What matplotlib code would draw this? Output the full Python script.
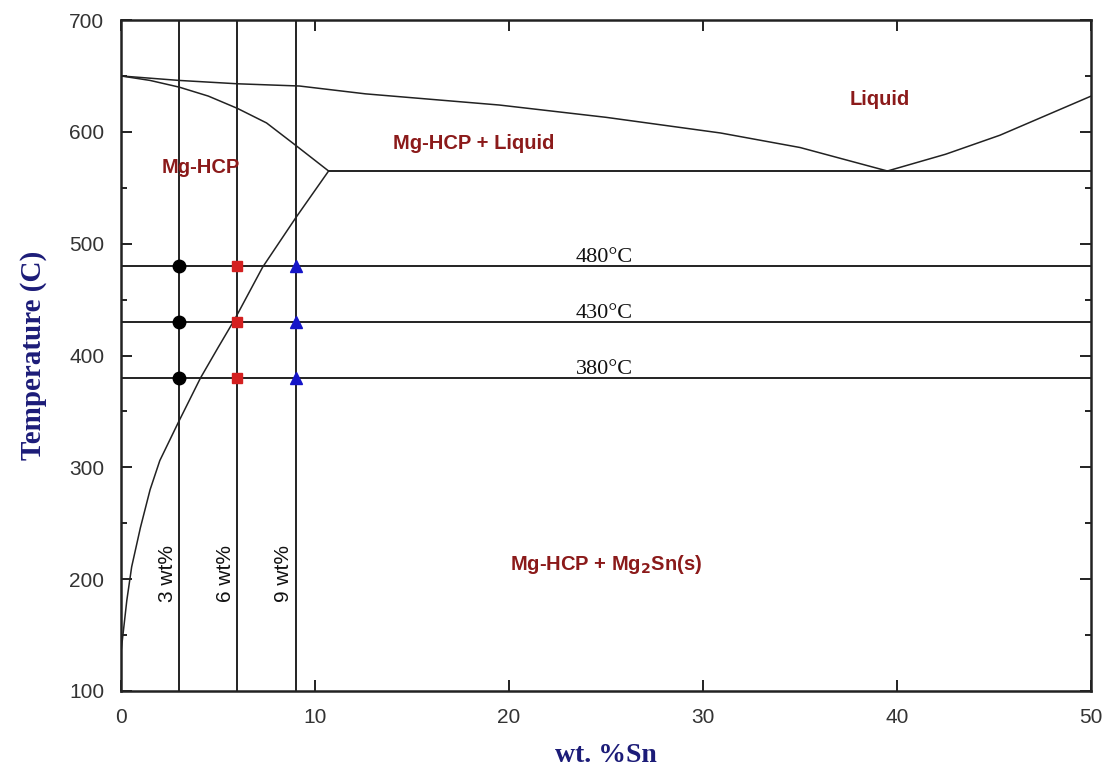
import matplotlib
matplotlib.use("Agg")
import matplotlib.pyplot as plt
from matplotlib.ticker import MultipleLocator

liq_x = [0, 3, 6, 9.2, 12.6, 19.5, 25, 30.9, 35, 39.5]
liq_t = [650, 646, 643, 641, 634, 624, 613, 599, 586, 565]
liq2_x = [39.5, 42.5, 45.3, 50]
liq2_t = [565, 580, 597, 632]
sol_x = [0, 1.5, 3, 4.5, 6, 7.5, 9, 10.7]
sol_t = [650, 646, 640, 632, 621, 608, 588, 565]
solv_x = [0, 0, 0.1, 0.3, 0.55, 1.0, 1.5, 2.0, 2.95, 4.1, 5.0, 5.85, 7.3, 9.0, 10.7]
solv_t = [100, 135, 150, 181, 211, 246, 280, 306, 340, 380, 407, 432, 479, 523, 565]
eut_x = [10.7, 50]
eut_t = 565

composiciones = [3, 6, 9]
temperaturas = [480, 430, 380]
comp_labels = ["3 wt%", "6 wt%", "9 wt%"]
temp_labels = ["480°C", "430°C", "380°C"]
marcadores = [("o", "black", 9), ("s", "#d42020", 7.5), ("^", "#1515c8", 9)]

rojo = "#8b1a1a"
azul = "#1c1c78"

fig = plt.figure(figsize=(11.1, 7.71), dpi=100)
ax = fig.add_axes([0.109, 0.1038, 0.874, 0.8702])

lw = 1.1
ax.plot(liq_x, liq_t, color="#222222", lw=lw)
ax.plot(liq2_x, liq2_t, color="#222222", lw=lw)
ax.plot(sol_x, sol_t, color="#222222", lw=lw)
ax.plot(solv_x, solv_t, color="#222222", lw=lw)
ax.plot(eut_x, [eut_t, eut_t], color="#222222", lw=1.4)

for t in temperaturas:
    ax.axhline(t, color="#222222", lw=1.4)
for c in composiciones:
    ax.axvline(c, color="#222222", lw=1.4)

for c, (m, col, ms) in zip(composiciones, marcadores):
    ax.plot([c] * len(temperaturas), temperaturas, ls="none", marker=m,
            color=col, markersize=ms, zorder=5)

for t, lab in zip(temperaturas, temp_labels):
    ax.text(24.9, t - 1, lab, ha="center", va="bottom", fontsize=16,
            family="Liberation Serif", color="#111111")

for c, lab in zip(composiciones, comp_labels):
    ax.text(c - 0.12, 205, lab, rotation=90, ha="right", va="center",
            fontsize=15, family="Liberation Sans", color="#111111")

kw = dict(ha="center", va="center", fontsize=14.5, fontweight="bold",
          family="Liberation Sans", color=rojo)
ax.text(4.1, 568, "Mg-HCP", **kw)
ax.text(18.2, 590, "Mg-HCP + Liquid", **kw)
ax.text(39.1, 629, "Liquid", **kw)
ax.text(25.0, 213, r"Mg-HCP + Mg$_\mathbf{2}$Sn(s)", **kw)

ax.set_xlim(0, 50)
ax.set_ylim(100, 700)
ax.xaxis.set_major_locator(MultipleLocator(10))
ax.yaxis.set_major_locator(MultipleLocator(100))
ax.yaxis.set_minor_locator(MultipleLocator(50))
ax.tick_params(which="both", direction="in", top=True, right=True,
               width=1.4, color="#222222")
ax.tick_params(which="major", length=8, pad=12, labelsize=15,
               labelcolor="#333333")
ax.tick_params(which="minor", length=4)
for lab in ax.get_xticklabels() + ax.get_yticklabels():
    lab.set_family("Liberation Sans")
for s in ax.spines.values():
    s.set_linewidth(1.8)
    s.set_color("#222222")

ax.set_xlabel("wt. %Sn", fontsize=20, fontweight="bold",
              family="Liberation Serif", color=azul, labelpad=12)
ax.set_ylabel("Temperature (C)", fontsize=21, fontweight="bold",
              family="Liberation Serif", color=azul, labelpad=16)

fig.savefig("out.png", dpi=100)
